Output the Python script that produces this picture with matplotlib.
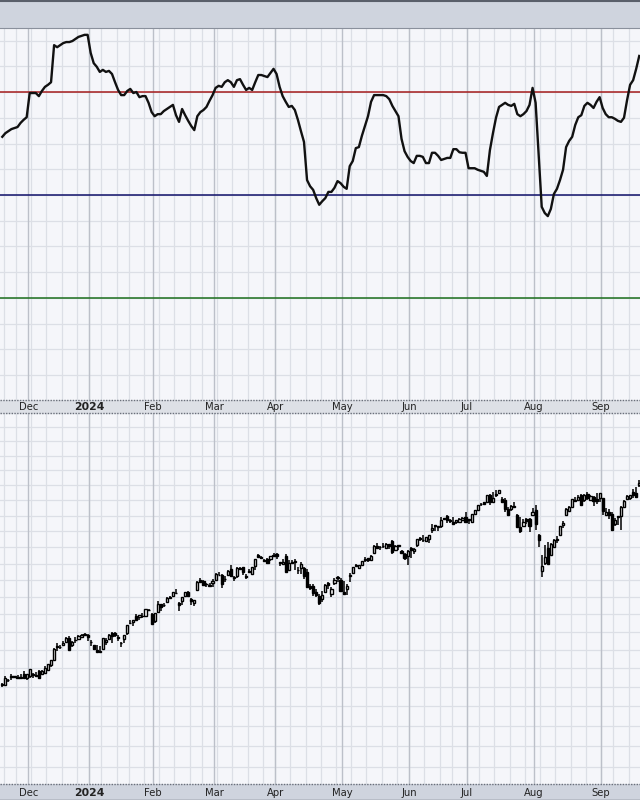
import matplotlib
matplotlib.use("Agg")
import matplotlib.pyplot as plt
import matplotlib.transforms as mtransforms
from matplotlib.patches import Rectangle
import numpy as np
import pandas as pd

# ---------------- data ----------------
dates = pd.bdate_range("2023-11-17", "2024-09-19")
holidays = pd.to_datetime(["2023-11-23", "2023-12-25", "2024-01-01", "2024-01-15", "2024-02-19",
                           "2024-03-29", "2024-05-27", "2024-06-19", "2024-07-04", "2024-09-02"])
dates = dates[~dates.isin(holidays)]

indicator = [61.3, 62.0, 62.4, 62.8, 63.0, 63.2, 64.0, 64.6, 65.1,
             69.8, 69.8, 69.8, 69.2, 70.2, 71.0, 71.4, 71.9, 79.1, 78.7, 79.1, 79.5, 79.7, 79.7, 79.9, 80.3, 80.7, 80.9, 81.1, 81.1,
             77.6, 75.6, 74.9, 73.9, 74.3, 73.9, 74.1, 73.5, 71.9, 70.4, 69.4, 69.4, 70.2, 70.6, 69.8, 70.0, 69.0, 69.2, 69.2, 67.9, 66.1,
             65.3, 65.7, 65.7, 66.3, 66.7, 67.1, 67.5, 65.5, 64.2, 66.7, 65.5, 64.4, 63.4, 62.6, 65.3, 66.1, 66.5, 67.1, 68.3, 69.4,
             70.8, 71.2, 71.0, 71.9, 72.3, 71.9, 71.0, 72.3, 72.5, 71.4, 70.4, 70.8, 70.4, 71.9, 73.3, 73.3, 73.1, 72.9, 73.7, 74.5,
             73.5, 71.0, 69.2, 68.1, 67.1, 67.3, 66.5, 64.6, 62.4, 60.3, 52.9, 51.7, 51.0, 49.4, 48.1, 48.8, 49.4, 50.6, 50.6, 51.4, 52.7, 52.3,
             51.6, 51.2, 55.6, 56.6, 59.1, 59.3, 61.5, 63.4, 65.3, 68.1, 69.4, 69.4, 69.4, 69.4, 69.2, 68.6, 67.3, 66.3, 65.3, 60.9, 58.5, 57.4,
             56.6, 56.2, 57.6, 57.6, 57.4, 56.2, 56.2, 58.2, 58.2, 57.6, 56.8, 57.0, 57.2, 57.2, 58.9, 58.9, 58.3, 58.2, 58.2,
             55.2, 55.2, 55.2, 54.9, 54.7, 54.5, 53.7, 58.7, 62.0, 65.0, 67.1, 67.5, 67.9, 67.5, 67.3, 67.7, 65.7, 65.3, 65.7, 66.3, 67.5, 70.8,
             67.9, 57.8, 47.7, 46.5, 45.9, 47.3, 50.2, 51.2, 52.9, 54.9, 59.3, 60.5, 61.3, 63.6, 65.1, 65.5, 67.3, 67.9, 67.5, 66.9, 68.1, 69.0,
             66.9, 65.7, 65.1, 65.1, 64.8, 64.4, 64.2, 65.0, 68.4, 71.4, 72.3, 74.5, 77.0]

opens = [4509, 4511, 4538, 4553, 4555, 4555, 4546, 4571, 4548,
         4559, 4564, 4557, 4586, 4568, 4576, 4593, 4618, 4646, 4722, 4714, 4725, 4744, 4764, 4725, 4754, 4759, 4773, 4786, 4783,
         4745, 4726, 4698, 4690, 4703, 4742, 4759, 4792, 4792, 4773, 4739, 4761, 4796, 4853, 4856, 4889, 4886, 4888, 4892, 4926, 4900,
         4862, 4916, 4957, 4951, 4973, 4995, 5004, 5026, 4968, 4976, 5004, 5032, 4989, 4963, 5039, 5100, 5093, 5075, 5068, 5085,
         5098, 5131, 5131, 5109, 5133, 5164, 5111, 5124, 5173, 5176, 5123, 5154, 5139, 5182, 5253, 5242, 5219, 5228, 5226, 5248,
         5258, 5205, 5195, 5244, 5159, 5211, 5217, 5161, 5172, 5171, 5150, 5065, 5068, 5032, 5006, 4988, 5028, 5084, 5019, 5084, 5114, 5103,
         5029, 5050, 5123, 5142, 5187, 5173, 5190, 5226, 5234, 5222, 5264, 5310, 5303, 5306, 5298, 5320, 5340, 5281, 5315, 5278, 5259, 5243,
         5297, 5275, 5314, 5357, 5343, 5341, 5353, 5409, 5441, 5424, 5431, 5477, 5499, 5470, 5459, 5460, 5461, 5473, 5488,
         5472, 5461, 5507, 5537, 5572, 5585, 5591, 5635, 5590, 5638, 5644, 5610, 5600, 5543, 5544, 5565, 5505, 5429, 5433, 5477, 5478, 5505,
         5538, 5376, 5152, 5206, 5294, 5253, 5303, 5351, 5376, 5442, 5502, 5531, 5557, 5602, 5603, 5637, 5603, 5639, 5602, 5624, 5608, 5613,
         5612, 5506, 5520, 5507, 5443, 5491, 5496, 5557, 5605, 5614, 5655, 5644, 5703]
highs = [4521, 4557, 4542, 4569, 4560, 4562, 4569, 4587, 4570,
         4599, 4574, 4578, 4591, 4591, 4610, 4623, 4644, 4709, 4738, 4725, 4749, 4769, 4779, 4749, 4773, 4785, 4786, 4793, 4788,
         4755, 4729, 4727, 4722, 4764, 4765, 4791, 4799, 4802, 4782, 4744, 4784, 4842, 4868, 4867, 4903, 4898, 4907, 4929, 4932, 4906,
         4906, 4975, 4958, 4963, 5000, 5004, 5030, 5048, 4971, 5002, 5032, 5038, 4993, 4983, 5094, 5111, 5098, 5081, 5083, 5104,
         5141, 5149, 5134, 5127, 5160, 5189, 5125, 5179, 5180, 5180, 5137, 5165, 5180, 5225, 5261, 5246, 5229, 5236, 5249, 5264,
         5263, 5208, 5229, 5256, 5222, 5219, 5225, 5179, 5211, 5176, 5168, 5079, 5077, 5046, 5020, 5038, 5076, 5089, 5057, 5114, 5124, 5110,
         5096, 5074, 5140, 5181, 5200, 5191, 5215, 5240, 5235, 5250, 5312, 5325, 5306, 5325, 5324, 5323, 5342, 5311, 5316, 5282, 5265, 5280,
         5302, 5298, 5354, 5362, 5375, 5365, 5376, 5448, 5442, 5432, 5488, 5487, 5506, 5478, 5490, 5472, 5483, 5490, 5524,
         5480, 5510, 5539, 5570, 5583, 5590, 5635, 5642, 5655, 5667, 5669, 5622, 5614, 5557, 5570, 5585, 5508, 5492, 5475, 5487, 5486, 5551,
         5566, 5383, 5250, 5312, 5330, 5328, 5351, 5371, 5436, 5464, 5546, 5564, 5608, 5620, 5633, 5643, 5641, 5651, 5631, 5628, 5647, 5648,
         5612, 5552, 5541, 5523, 5485, 5500, 5561, 5602, 5637, 5636, 5671, 5690, 5733]
lows = [4500, 4511, 4525, 4537, 4553, 4546, 4541, 4546, 4537,
        4547, 4546, 4552, 4546, 4565, 4575, 4593, 4608, 4643, 4694, 4705, 4725, 4744, 4699, 4718, 4737, 4759, 4769, 4780, 4751,
        4723, 4700, 4687, 4683, 4699, 4730, 4757, 4740, 4769, 4747, 4715, 4741, 4785, 4845, 4836, 4865, 4870, 4881, 4888, 4917, 4845,
        4853, 4907, 4918, 4940, 4969, 4988, 5000, 5017, 4920, 4956, 4999, 4999, 4955, 4947, 5038, 5081, 5068, 5057, 5058, 5061,
        5094, 5128, 5056, 5091, 5133, 5117, 5093, 5115, 5161, 5128, 5105, 5145, 5131, 5161, 5240, 5230, 5217, 5203, 5213, 5246,
        5230, 5185, 5194, 5146, 5158, 5197, 5160, 5138, 5138, 5107, 5052, 5039, 5008, 5001, 4953, 4969, 5027, 5047, 5002, 5073, 5086, 5035,
        5013, 5011, 5087, 5142, 5182, 5165, 5182, 5207, 5212, 5218, 5264, 5297, 5283, 5297, 5297, 5287, 5256, 5278, 5281, 5263, 5222, 5192,
        5234, 5257, 5301, 5336, 5331, 5331, 5328, 5391, 5403, 5403, 5420, 5472, 5455, 5452, 5447, 5446, 5452, 5471, 5460,
        5447, 5453, 5507, 5531, 5563, 5570, 5586, 5571, 5584, 5620, 5639, 5584, 5523, 5497, 5529, 5550, 5425, 5391, 5431, 5444, 5394, 5503,
        5410, 5303, 5120, 5194, 5195, 5250, 5303, 5324, 5376, 5419, 5501, 5531, 5551, 5585, 5592, 5561, 5590, 5603, 5593, 5561, 5578, 5586,
        5503, 5504, 5478, 5402, 5434, 5442, 5406, 5546, 5605, 5604, 5615, 5615, 5687]
closes = [4514, 4547, 4538, 4557, 4559, 4550, 4555, 4551, 4568,
          4595, 4569, 4567, 4549, 4585, 4604, 4622, 4644, 4707, 4719, 4719, 4741, 4768, 4699, 4746, 4755, 4775, 4782, 4783, 4770,
          4743, 4705, 4689, 4697, 4764, 4757, 4783, 4780, 4784, 4766, 4739, 4781, 4840, 4851, 4865, 4869, 4894, 4891, 4928, 4925, 4846,
          4906, 4959, 4943, 4954, 4995, 4998, 5027, 5022, 4953, 5001, 5030, 5006, 4976, 4982, 5087, 5089, 5070, 5078, 5070, 5096,
          5137, 5131, 5079, 5105, 5157, 5124, 5117, 5175, 5165, 5150, 5117, 5149, 5179, 5225, 5241, 5234, 5218, 5204, 5248, 5254,
          5243, 5205, 5211, 5147, 5204, 5202, 5209, 5161, 5199, 5123, 5061, 5051, 5022, 5011, 4967, 5010, 5070, 5072, 5048, 5100, 5116, 5036,
          5018, 5064, 5128, 5181, 5187, 5188, 5214, 5223, 5221, 5247, 5308, 5297, 5303, 5308, 5321, 5307, 5268, 5305, 5306, 5267, 5236, 5278,
          5283, 5291, 5354, 5352, 5347, 5361, 5375, 5421, 5434, 5431, 5473, 5487, 5473, 5465, 5448, 5469, 5478, 5483, 5460,
          5475, 5509, 5537, 5567, 5572, 5577, 5633, 5585, 5615, 5631, 5667, 5589, 5545, 5505, 5564, 5555, 5427, 5399, 5459, 5464, 5436, 5522,
          5446, 5347, 5186, 5240, 5199, 5319, 5344, 5344, 5434, 5455, 5543, 5554, 5608, 5597, 5621, 5571, 5635, 5616, 5625, 5592, 5592, 5648,
          5529, 5520, 5503, 5408, 5471, 5496, 5554, 5596, 5626, 5634, 5635, 5618, 5714]

month_labels = ["Dec", "2024", "Feb", "Mar", "Apr", "May", "Jun", "Jul", "Aug", "Sep"]
ind_levels = [70, 50, 30]
ind_level_colors = ["#a51c1c", "#10106a", "#1c6e1c"]

# ---------------- layout ----------------
W, H = 640, 800
fig = plt.figure(figsize=(W / 100, H / 100), dpi=100)
fig.patch.set_facecolor("#f4f5f9")

def fy(p):
    return 1 - p / H

panel_bg = "#f5f6fa"
grid_c = "#dcdfe6"
month_c = "#bcc0c9"
ax1 = fig.add_axes([0, fy(400), 1, fy(28) - fy(400)])
ax2 = fig.add_axes([0, fy(784), 1, fy(413) - fy(784)])

n = len(closes)
x = np.arange(n) - 9  # Dec 1 2023 -> 0
xlim = (-9.75, 200.25)

d = pd.DatetimeIndex(dates[:n])
week_bounds = [x[i] - 0.5 for i in range(1, n) if d[i].isocalendar()[1] != d[i - 1].isocalendar()[1]]
month_bounds = [x[i] - 0.5 for i in range(1, n) if d[i].month != d[i - 1].month]

for ax in (ax1, ax2):
    ax.set_facecolor(panel_bg)
    ax.set_xlim(*xlim)
    for s in ax.spines.values():
        s.set_visible(False)
    ax.set_xticks([])
    ax.set_yticks([])
    for wb in week_bounds:
        ax.axvline(wb, color=grid_c, lw=0.9, zorder=0)
    for mb in month_bounds:
        ax.axvline(mb, color=month_c, lw=1.0, zorder=0.5)

# top panel
ax1.set_ylim(10.19, 82.43)
for v in range(15, 85, 5):
    ax1.axhline(v, color=grid_c, lw=0.9, zorder=0)
for lev, col in zip(ind_levels, ind_level_colors):
    ax1.axhline(lev, color=col, lw=1.1, zorder=1)
ax1.plot(x, indicator, color="#111111", lw=1.7, zorder=3, solid_joinstyle="round")

# bottom panel (log)
ax2.set_yscale("log")
ax2.set_ylim(4018, 6201)
ax2.set_yticks([])
ax2.minorticks_off()
for v in range(4100, 6300, 100):
    ax2.axhline(v, color=grid_c, lw=0.9, zorder=0)
o = np.array(opens, float); c = np.array(closes, float)
h = np.array(highs, float); l = np.array(lows, float)
ax2.vlines(x, l, h, color="black", lw=1.1, zorder=2)
up = c >= o
bot = np.minimum(o, c)
top = np.maximum(o, c)
ht = np.maximum(top - bot, 1.5)
ax2.bar(x[up], ht[up], bottom=bot[up], width=0.72, color="white", edgecolor="black", linewidth=1.0, zorder=3)
ax2.bar(x[~up], ht[~up], bottom=bot[~up], width=0.72, color="black", edgecolor="black", linewidth=1.0, zorder=3)

# bands
fig.patches.append(Rectangle((0, fy(28)), 1, fy(0) - fy(28), transform=fig.transFigure,
                             facecolor="#cfd4de", edgecolor="none", zorder=-1))
fig.add_artist(plt.Line2D([0, 1], [fy(0.8), fy(0.8)], transform=fig.transFigure, color="#5a5f6a", lw=1.5))
fig.add_artist(plt.Line2D([0, 1], [fy(28), fy(28)], transform=fig.transFigure, color="#8a909c", lw=0.8))

fig.patches.append(Rectangle((0, fy(413)), 1, fy(400) - fy(413), transform=fig.transFigure,
                             facecolor="#dde0e6", edgecolor="none", zorder=-1))
for yy in (400, 413):
    fig.add_artist(plt.Line2D([0, 1], [fy(yy), fy(yy)], transform=fig.transFigure, color="#6a6f7a",
                              lw=1.0, linestyle=(0, (1, 1))))
fig.patches.append(Rectangle((0, 0), 1, fy(784), transform=fig.transFigure,
                             facecolor="#cfd4de", edgecolor="none", zorder=-1))
fig.add_artist(plt.Line2D([0, 1], [fy(784), fy(784)], transform=fig.transFigure, color="#6a6f7a",
                          lw=1.0, linestyle=(0, (1, 1))))
fig.add_artist(plt.Line2D([0, 1], [fy(799.5), fy(799.5)], transform=fig.transFigure, color="#5a5f6a", lw=1.0))

# month labels
for ax, ylab in ((ax1, 407), (ax2, 792.5)):
    tr = mtransforms.blended_transform_factory(ax.transData, fig.transFigure)
    for mb, lab in zip(month_bounds, month_labels):
        fig.text(mb, fy(ylab), lab, transform=tr, ha="center", va="center",
                 fontsize=7.2 if lab != "2024" else 7.8, color="#222222",
                 fontweight="bold" if lab == "2024" else "normal", family="DejaVu Sans")

fig.savefig("out.png", dpi=100, facecolor=fig.get_facecolor())
